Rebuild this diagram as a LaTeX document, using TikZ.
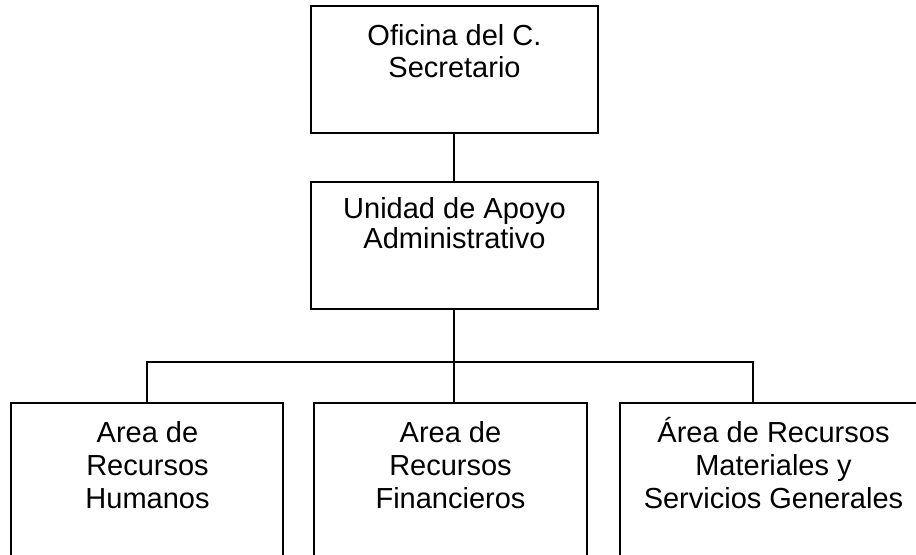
\documentclass[tikz,border=0pt]{standalone}
\usepackage{fontspec}
\setmainfont{Liberation Sans}
\usetikzlibrary{positioning}
\tikzstyle{officebox} = [rectangle, draw=black, line width=1pt, outer sep=0pt, inner sep=0pt, minimum width=143.5pt, text height=35.5pt, text depth=28pt, align=center, font=\fontsize{14.5pt}{16pt}\selectfont]
\tikzstyle{areabox} = [rectangle, draw=black, line width=1pt, outer sep=0pt, inner sep=0pt, minimum width=136pt, text height=52.5pt, text depth=47pt, align=center, font=\fontsize{14.5pt}{16.5pt}\selectfont]
\tikzstyle{link} = [line width=1pt]

\begin{document}
\begin{tikzpicture}
    \useasboundingbox (-227.25pt,3pt) rectangle (230.75pt,-274pt);

        \node[officebox, anchor=north]                         (secretario)  at (0,0) {Oficina del C.\\Secretario};
        \node[officebox, below=24.5pt of secretario, text height=33pt, text depth=30.5pt, font=\fontsize{14.5pt}{13.5pt}\selectfont] (apoyo) {Unidad de Apoyo\\Administrativo};
        \node[areabox, below=47pt of apoyo, xshift=-2pt]       (financieros) {Area de\\Recursos\\Financieros};
        \node[areabox, left=15.5pt of financieros]             (humanos)     {Area de\\Recursos\\Humanos};
        \node[areabox, right=16.5pt of financieros, minimum width=154pt] (materiales) {Área de Recursos\\Materiales y\\Servicios Generales};

        \draw[link] (secretario) -- (apoyo);
        \draw[link] (apoyo) -- (apoyo.south |- financieros.north);
        \draw[link] (humanos.north) -- ++(0,20.5pt) -| ([xshift=-10.5pt]materiales.north);
    \end{tikzpicture}
\end{document}
